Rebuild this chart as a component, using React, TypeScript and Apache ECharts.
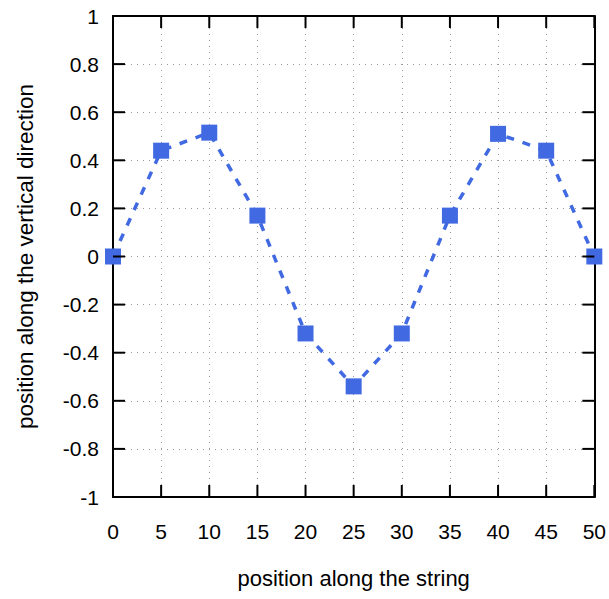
import React, { useEffect, useRef } from "react";
import * as echarts from "echarts";

const xValues = [0, 5, 10, 15, 20, 25, 30, 35, 40, 45, 50];
const yValues = [0, 0.44, 0.515, 0.17, -0.32, -0.54, -0.32, 0.17, 0.51, 0.44, 0];
const xTicks = [0, 5, 10, 15, 20, 25, 30, 35, 40, 45, 50];
const yTicks = [-1, -0.8, -0.6, -0.4, -0.2, 0, 0.2, 0.4, 0.6, 0.8, 1];
const xTitle = "position along the string";
const yTitle = "position along the vertical direction";

const X_MIN = 0, X_MAX = 50, X_STEP = 5;
const Y_MIN = -1, Y_MAX = 1, Y_STEP = 0.2;
const TICK_LEN = 12;

export default function App() {
  const ref = useRef<HTMLDivElement>(null);
  useEffect(() => {
    if (!ref.current) return;
    const chart = echarts.init(ref.current, null, { renderer: "svg" });
    const font = "'Liberation Sans', Arial, Helvetica, sans-serif";
    const axisLine = () => ({ show: true, onZero: false, lineStyle: { color: "#000", width: 2 } });
    const split = () => ({ show: true, lineStyle: { color: "#999", type: [1, 5], width: 1 } });
    chart.setOption({
      animation: false,
      backgroundColor: "#fff",
      grid: { left: 113, right: 14, top: 16, bottom: 102, containLabel: false },
      xAxis: [
        {
          type: "value", min: X_MIN, max: X_MAX, interval: X_STEP, position: "bottom",
          axisLine: axisLine(), axisTick: { show: false }, splitLine: split(),
          axisLabel: { color: "#000", fontSize: 21, fontFamily: font, margin: 24 },
          name: xTitle, nameLocation: "middle", nameGap: 70,
          nameTextStyle: { color: "#000", fontSize: 22, fontFamily: font },
        },
        {
          type: "value", min: X_MIN, max: X_MAX, interval: X_STEP, position: "top",
          axisLine: axisLine(), axisTick: { show: false }, splitLine: { show: false }, axisLabel: { show: false },
        },
      ],
      yAxis: [
        {
          type: "value", min: Y_MIN, max: Y_MAX, interval: Y_STEP, position: "left",
          axisLine: axisLine(), axisTick: { show: false }, splitLine: split(),
          axisLabel: { color: "#000", fontSize: 21, fontFamily: font, margin: 14,
            formatter: (v: number) => String(Math.round(v * 10) / 10) },
          name: yTitle, nameLocation: "middle", nameGap: 76,
          nameTextStyle: { color: "#000", fontSize: 22.5, fontFamily: font },
        },
        {
          type: "value", min: Y_MIN, max: Y_MAX, interval: Y_STEP, position: "right",
          axisLine: axisLine(), axisTick: { show: false }, splitLine: { show: false }, axisLabel: { show: false },
        },
      ],
      series: [
        {
          type: "line",
          data: xValues.map((x, i) => [x, yValues[i]]),
          symbol: "rect",
          symbolSize: 16,
          clip: false,
          z: 5,
          lineStyle: { color: "#4169e1", width: 3.5, type: [8, 9] },
          itemStyle: { color: "#4169e1" },
        },
      ],
    });

    // Tick marks placed through the chart's own scales
    const yBottom = chart.convertToPixel({ yAxisIndex: 0 }, Y_MIN) as number;
    const yTop = chart.convertToPixel({ yAxisIndex: 0 }, Y_MAX) as number;
    const xLeft = chart.convertToPixel({ xAxisIndex: 0 }, X_MIN) as number;
    const xRight = chart.convertToPixel({ xAxisIndex: 0 }, X_MAX) as number;
    const st = { stroke: "#000", lineWidth: 2 };
    const ticks: any[] = [];
    xTicks.forEach((v) => {
      const px = chart.convertToPixel({ xAxisIndex: 0 }, v) as number;
      ticks.push({ type: "line", z: 100, silent: true, shape: { x1: px, y1: yBottom, x2: px, y2: yBottom - TICK_LEN }, style: st });
      ticks.push({ type: "line", z: 100, silent: true, shape: { x1: px, y1: yTop, x2: px, y2: yTop + TICK_LEN }, style: st });
    });
    yTicks.forEach((v) => {
      const py = chart.convertToPixel({ yAxisIndex: 0 }, v) as number;
      ticks.push({ type: "line", z: 100, silent: true, shape: { x1: xLeft, y1: py, x2: xLeft + TICK_LEN, y2: py }, style: st });
      ticks.push({ type: "line", z: 100, silent: true, shape: { x1: xRight, y1: py, x2: xRight - TICK_LEN, y2: py }, style: st });
    });
    chart.setOption({ graphic: ticks });

    return () => chart.dispose();
  }, []);
  return <div ref={ref} style={{ width: 609, height: 599, position: "absolute", left: 0, top: 0 }} />;
}
